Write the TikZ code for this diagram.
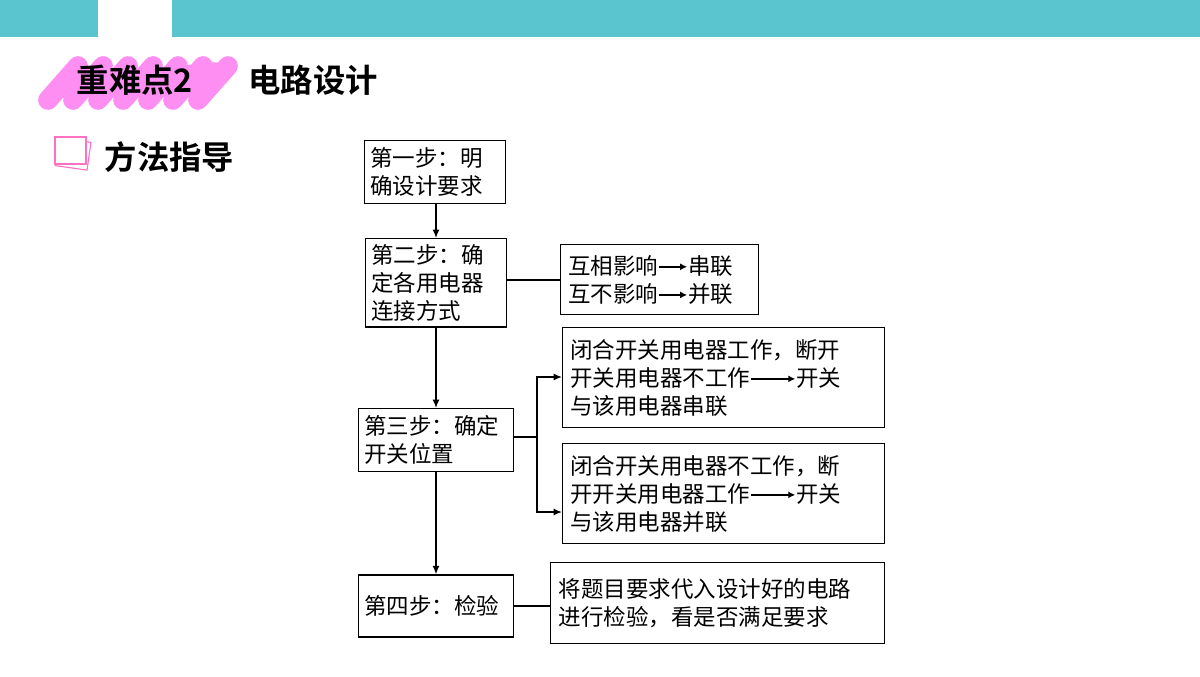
\documentclass[tikz,border=0pt]{standalone}
\usepackage{fontspec}
\setmainfont{Noto Sans CJK SC}
\newfontfamily\cjkbold{Noto Sans CJK SC Bold}
\usetikzlibrary{arrows.meta}
\definecolor{teal}{HTML}{5AC5CE}
\definecolor{brush}{HTML}{FF8EF2}
\newcommand{\inarrow}[1]{\tikz[x=1cm,y=1cm,baseline=-0.6ex]\draw[-{Latex[length=5pt,width=5pt]},line width=1.2pt] (0,0) -- (#1,0);}
\begin{document}
\begin{tikzpicture}[x=0.025cm,y=-0.025cm,
  box/.style={draw,line width=1pt,align=left,anchor=north west,font=\fontsize{16}{20}\selectfont,inner sep=4pt},
  flow/.style={-{Latex[length=6pt,width=5pt]},line width=1pt},
  link/.style={line width=1pt}]
\useasboundingbox (0,0) rectangle (1200,676);
% header
\fill[teal] (0,0) rectangle (98,37);
\fill[teal] (172,0) rectangle (1200,37);
\foreach \x in {0,25,...,150}
  \draw[brush,line width=14pt,line cap=round] (48+\x,100) -- (78+\x,66);
\draw[brush,line width=14pt,line cap=round] (60,88) -- (215,72);
\node[font=\cjkbold\fontsize{23}{23}\selectfont] (hard) at (135,80) {重难点2};
\node[font=\cjkbold\fontsize{23}{23}\selectfont] (topic) at (313,80) {电路设计};
% note icon
\draw[brush!80!red,line width=0.8pt,rotate around={-8:(73,155)}] (57,140) rectangle (89,168);
\draw[brush!80!red,line width=0.8pt,fill=white] (55,137) rectangle (86,164);
\node[font=\cjkbold\fontsize{23}{23}\selectfont,anchor=west] (method) at (100,157) {方法指导};
% steps
\node[box,minimum width=139*0.025cm,minimum height=63*0.025cm,text width=92pt] (s1) at (364,140) {第一步：明\\确设计要求};
\node[box,minimum width=138*0.025cm,minimum height=82*0.025cm,text width=92pt] (s2) at (365,238) {第二步：确\\定各用电器\\连接方式};
\node[box,minimum width=153*0.025cm,minimum height=63*0.025cm,text width=102pt] (s3) at (358,408) {第三步：确定\\开关位置};
\node[box,minimum width=153*0.025cm,minimum height=62*0.025cm,text width=102pt,anchor=west] (s4) at (358,606) {第四步：检验};
\node[box,minimum width=198*0.025cm,minimum height=70*0.025cm,text width=130pt] (r1) at (560,244) {互相影响\inarrow{0.7}串联\\互不影响\inarrow{0.7}并联};
\node[box,minimum width=322*0.025cm,minimum height=100*0.025cm,text width=218pt] (r2) at (562,327) {闭合开关用电器工作，断开\\开关用电器不工作\inarrow{1.1}开关\\与该用电器串联};
\node[box,minimum width=322*0.025cm,minimum height=100*0.025cm,text width=218pt] (r3) at (562,443) {闭合开关用电器不工作，断\\开开关用电器工作\inarrow{1.1}开关\\与该用电器并联};
\node[box,minimum width=334*0.025cm,minimum height=81*0.025cm,text width=226pt] (r4) at (550,562) {将题目要求代入设计好的电路\\进行检验，看是否满足要求};
% connectors
\draw[flow] (s1.south -| 436,0) -- (s2.north -| 436,0);
\draw[flow] (s2.south -| 436,0) -- (s3.north -| 436,0);
\draw[flow] (s3.south -| 436,0) -- (s4.north -| 436,0);
\draw[link] (s2.east |- 0,280) -- (r1.west |- 0,280);
\coordinate (fork) at (537,437);
\draw[link] (s3.east |- fork) -- (fork);
\draw[flow] (fork) |- (r2.west |- 0,377);
\draw[flow] (fork) |- (r3.west |- 0,512);
\draw[link] (s4.east) -- (r4.west |- s4.east);
\end{tikzpicture}
\end{document}
